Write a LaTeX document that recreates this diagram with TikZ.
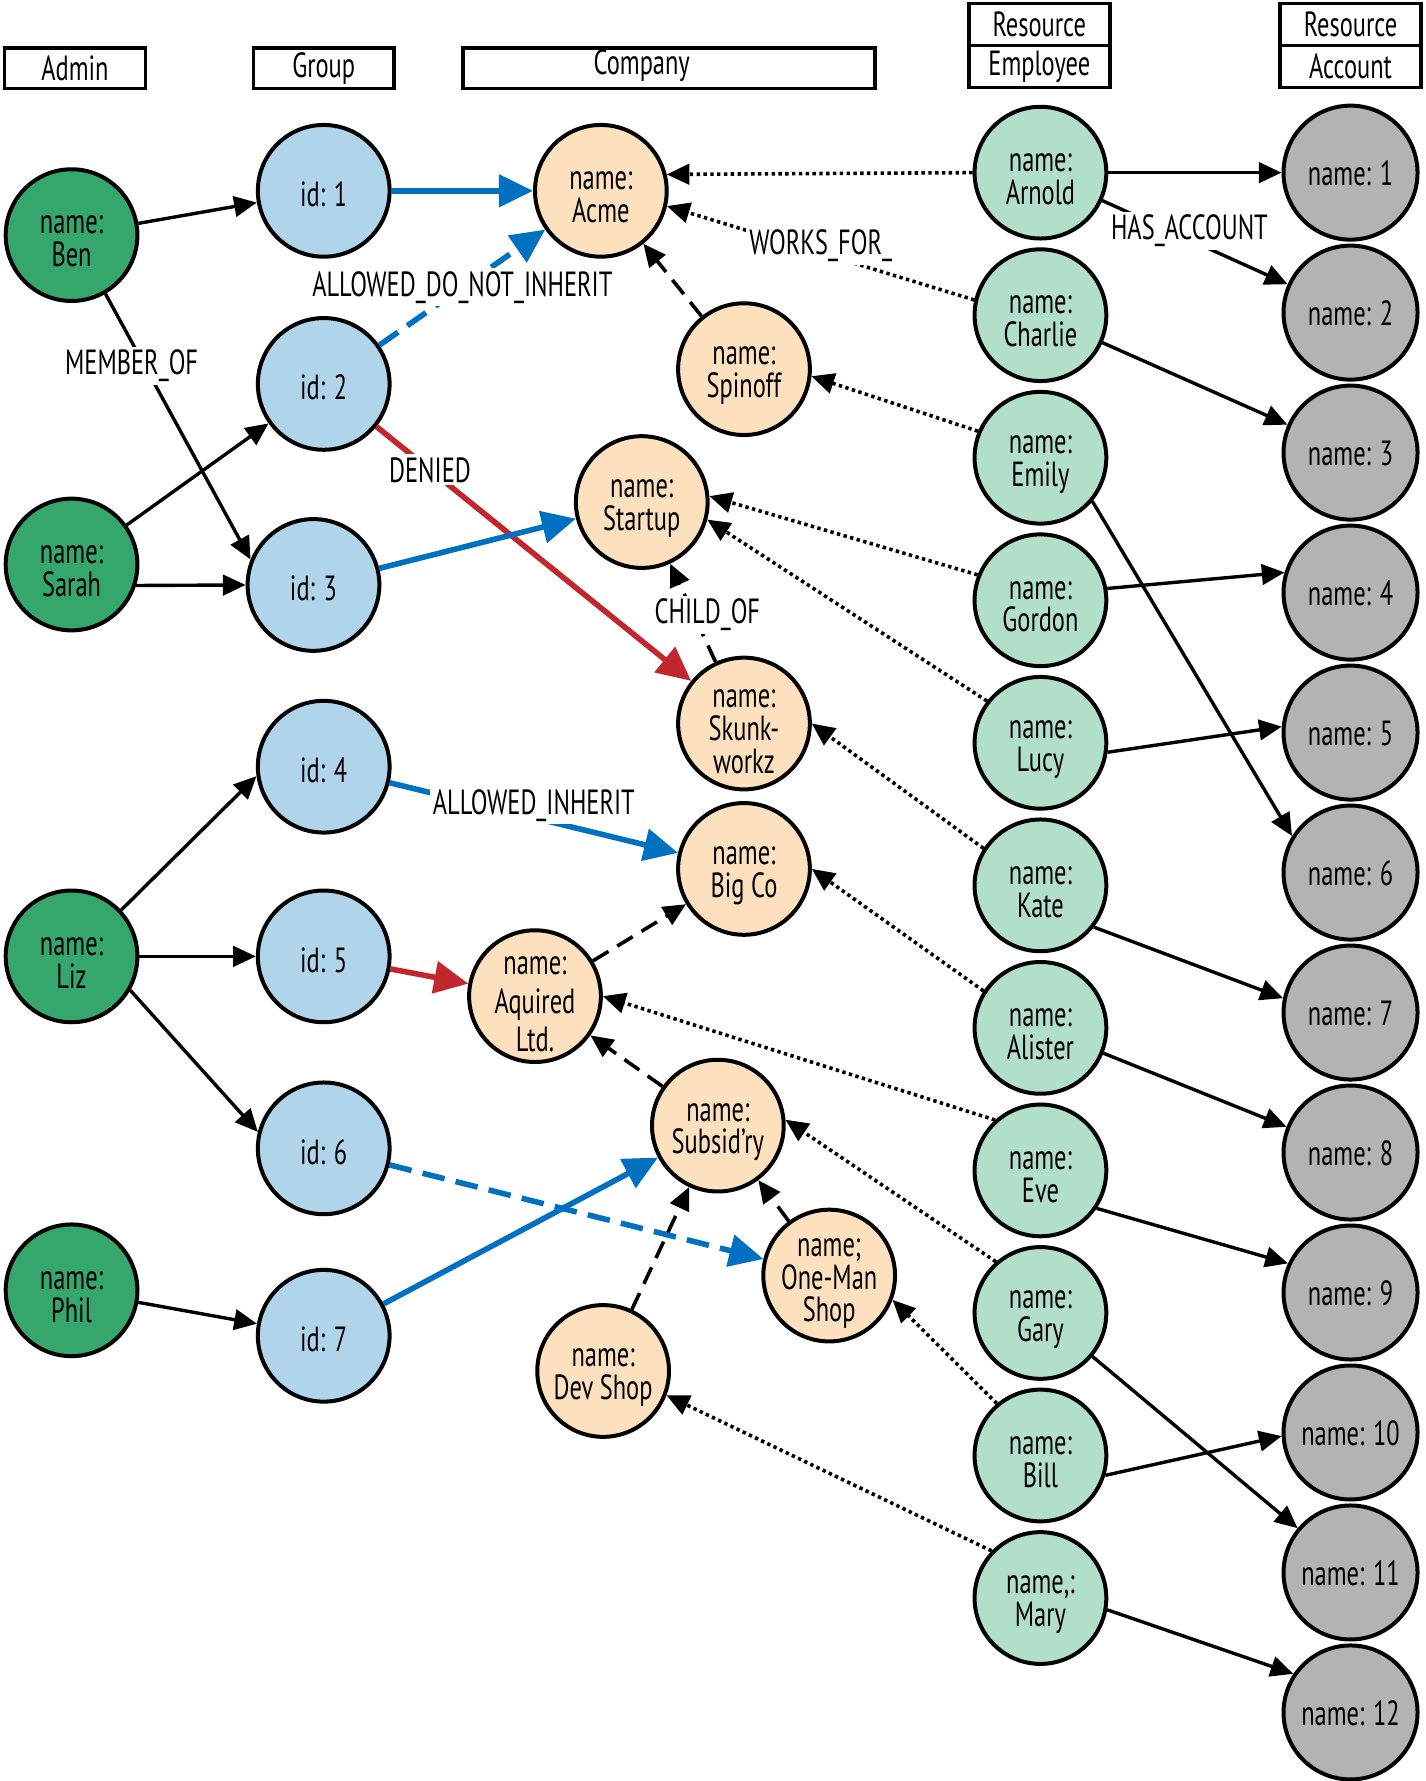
\documentclass[tikz,border=0pt]{standalone}
\usepackage{fontspec}
\setmainfont{PT Sans}[FakeStretch=0.7]
\usetikzlibrary{arrows.meta, positioning}

\definecolor{adminfill}{RGB}{54,167,108}
\definecolor{groupfill}{RGB}{176,212,234}
\definecolor{compfill}{RGB}{253,224,190}
\definecolor{empfill}{RGB}{178,223,202}
\definecolor{acctfill}{RGB}{179,179,179}
\definecolor{permblue}{RGB}{0,112,192}
\definecolor{permred}{RGB}{193,39,45}

\begin{document}
\begin{tikzpicture}[x=0.02cm, y=-0.02cm,
      every node/.style={font=\fontsize{17.5}{16.5}\selectfont},
      ent/.style={circle, draw, line width=2pt, minimum size=2.32cm,
                  inner sep=0pt, align=center},
      twoline/.style={ent, text height=32pt},
      threeline/.style={text height=50pt, inner sep=-0.45cm},
      admin/.style={twoline, fill=adminfill},
      grp/.style={ent, text height=16pt, fill=groupfill},
      comp/.style={twoline, fill=compfill},
      emp/.style={twoline, fill=empfill},
      acct/.style={ent, text height=13.5pt, fill=acctfill, minimum size=2.36cm},
      hdr/.style={draw, line width=1.8pt, minimum width=2.48cm,
                  minimum height=0.72cm, inner sep=0pt},
      lbl/.style={fill=white, inner sep=1.5pt},
      memberof/.style={-{Triangle[length=0.4cm, width=0.36cm]}, line width=1.7pt},
      hasacct/.style={memberof},
      perm/.style={-{Triangle[length=0.6cm, width=0.56cm]}, line width=2.8pt},
      allow/.style={perm, draw=permblue},
      deny/.style={perm, draw=permred},
      noinherit/.style={allow, dash pattern=on 0.4cm off 0.2cm},
      childof/.style={memberof, line width=1.8pt, dash pattern=on 0.32cm off 0.18cm},
      worksfor/.style={memberof, line width=1.8pt, dash pattern=on 0.06cm off 0.06cm}]
    \useasboundingbox (0,0) rectangle (1255,1568);

    % headers
    \node[hdr] (hadmin) at (66,60) {Admin};
    \node[hdr] (hgroup) at (285,60) {Group};
    \node[hdr, minimum width=7.26cm] (hcomp) at (589,60) {};
    \node (hcomptxt) at (565,58) {Company};
    \node[hdr, minimum height=0.74cm] (hres1) at (915,21.5) {Resource};
    \node[hdr, minimum height=0.74cm, below=-1.8pt of hres1] (hemp) {Employee};
    \node[hdr, minimum height=0.74cm] (hres2) at (1189,21.5) {Resource};
    \node[hdr, minimum height=0.74cm, below=-1.8pt of hres2] (hacct) {Account};

    % admins
    \node[admin] (ben)   at (63,207)  {name:\\Ben};
    \node[admin] (sarah) at (63,497)  {name:\\Sarah};
    \node[admin] (liz)   at (63,842)  {name:\\Liz};
    \node[admin] (phil)  at (63,1136) {name:\\Phil};

    % groups
    \node[grp] (gid1) at (285,168)  {id: 1};
    \node[grp] (gid2) at (285,338)  {id: 2};
    \node[grp] (gid3) at (276,515)  {id: 3};
    \node[grp] (gid4) at (285,675)  {id: 4};
    \node[grp] (gid5) at (285,842)  {id: 5};
    \node[grp] (gid6) at (285,1011) {id: 6};
    \node[grp] (gid7) at (285,1176) {id: 7};

    % companies
    \node[comp] (acme)    at (529,168)  {name:\\Acme};
    \node[comp] (spinoff) at (655,325)  {name:\\Spinoff};
    \node[comp] (startup) at (565,442)  {name:\\Startup};
    \node[comp, threeline] (skunk) at (655,637) {name:\\Skunk-\\workz};
    \node[comp] (bigco)   at (655,765)  {name:\\Big Co};
    \node[comp, threeline, text height=56pt] (aquired) at (471,877) {name:\\[0.1cm]Aquired\\[0.1cm]Ltd.};
    \node[comp] (subsid)  at (632,991)  {name:\\Subsid’ry};
    \node[comp, threeline] (oneman) at (730,1123) {name;\\One-Man\\Shop};
    \node[comp] (devshop) at (531,1207) {name:\\Dev Shop};

    % employees
    \node[emp] (arnold) at (916,152) {name:\\Arnold};
    \node[emp, below=0.12cm of arnold]  (charlie) {name:\\Charlie};
    \node[emp, below=0.12cm of charlie] (emily)   {name:\\Emily};
    \node[emp, below=0.12cm of emily]   (gordon)  {name:\\Gordon};
    \node[emp, below=0.12cm of gordon]  (lucy)    {name:\\Lucy};
    \node[emp, below=0.12cm of lucy]    (kate)    {name:\\Kate};
    \node[emp, below=0.12cm of kate]    (alister) {name:\\Alister};
    \node[emp, below=0.12cm of alister] (eve)     {name:\\Eve};
    \node[emp, below=0.12cm of eve]     (gary)    {name:\\Gary};
    \node[emp, below=0.12cm of gary]    (bill)    {name:\\Bill};
    \node[emp, below=0.12cm of bill]    (mary)    {name,:\\Mary};

    % accounts
    \node[acct] (acc1) at (1189,152) {name: 1};
    \node[acct, below=0.035cm of acc1]  (acc2)  {name: 2};
    \node[acct, below=0.035cm of acc2]  (acc3)  {name: 3};
    \node[acct, below=0.035cm of acc3]  (acc4)  {name: 4};
    \node[acct, below=0.035cm of acc4]  (acc5)  {name: 5};
    \node[acct, below=0.035cm of acc5]  (acc6)  {name: 6};
    \node[acct, below=0.035cm of acc6]  (acc7)  {name: 7};
    \node[acct, below=0.035cm of acc7]  (acc8)  {name: 8};
    \node[acct, below=0.035cm of acc8]  (acc9)  {name: 9};
    \node[acct, below=0.035cm of acc9]  (acc10) {name: 10};
    \node[acct, below=0.035cm of acc10] (acc11) {name: 11};
    \node[acct, below=0.035cm of acc11] (acc12) {name: 12};

    % admins -> groups
    \draw[memberof] (ben) -- (gid1);
    \draw[memberof] (ben.-60) -- node[lbl, pos=0.27, xshift=-0.23cm] (lmember) {MEMBER\_OF} (gid3.158);
    \draw[memberof] (sarah) -- (gid2);
    \draw[memberof] (sarah.-18) -- (gid3.west);
    \draw[memberof] (liz.43) -- (gid4.188);
    \draw[memberof] (liz) -- (gid5);
    \draw[memberof] (liz.-30) -- (gid6.166);
    \draw[memberof] (phil) -- (gid7);

    % groups -> companies
    \draw[allow] (gid1) -- (acme);
    \draw[noinherit] (gid2) -- node[lbl, pos=0.5] (lnoinh) {ALLOWED\_DO\_NOT\_INHERIT} (acme);
    \draw[deny] (gid2) -- node[lbl, pos=0.17] (ldenied) {DENIED} (skunk);
    \draw[allow] (gid3) -- (startup);
    \draw[allow] (gid4) -- node[lbl, pos=0.5, yshift=0.22cm] (linherit) {ALLOWED\_INHERIT} (bigco);
    \draw[deny] (gid5) -- (aquired);
    \draw[noinherit] (gid6) -- (oneman);
    \draw[allow] (gid7) -- (subsid);

    % company hierarchy
    \draw[childof] (spinoff) -- (acme);
    \draw[childof] (skunk) -- node[lbl, pos=0.48, xshift=0.24cm] (lchild) {CHILD\_OF} (startup);
    \draw[childof] (aquired) -- (bigco);
    \draw[childof] (subsid) -- (aquired);
    \draw[childof] (oneman) -- (subsid);
    \draw[childof] (devshop) -- (subsid);

    % employees -> companies
    \draw[worksfor] (arnold.west) -- (acme.14);
    \draw[worksfor] (charlie.167) -- node[lbl, pos=0.5, yshift=0.13cm] (lworks) {WORKS\_FOR\_} (acme.-13);
    \draw[worksfor] (emily.157) -- (spinoff.-6);
    \draw[worksfor] (gordon.158) -- (startup.5);
    \draw[worksfor] (lucy.142) -- (startup.-15);
    \draw[worksfor] (kate.147) -- (skunk.east);
    \draw[worksfor] (alister.147) -- (bigco.east);
    \draw[worksfor] (eve.132) -- (aquired.east);
    \draw[worksfor] (gary.131) -- (subsid.5);
    \draw[worksfor] (bill.130) -- (oneman.-21);
    \draw[worksfor] (mary.136) -- (devshop.-21);

    % employees -> accounts
    \draw[hasacct] (arnold) -- (acc1);
    \draw[hasacct] (arnold) -- node[lbl, pos=0.47, yshift=0.16cm] (lhas) {HAS\_ACCOUNT} (acc2);
    \draw[hasacct] (charlie) -- (acc3);
    \draw[hasacct] (emily.-40) -- (acc6.148);
    \draw[hasacct] (gordon.10) -- (acc4.163);
    \draw[hasacct] (lucy.-8) -- (acc5.175);
    \draw[hasacct] (kate.-38) -- (acc7.168);
    \draw[hasacct] (alister) -- (acc8);
    \draw[hasacct] (eve.-34) -- (acc9.155);
    \draw[hasacct] (gary) -- (acc11);
    \draw[hasacct] (bill.-17) -- (acc10.183);
    \draw[hasacct] (mary.-10) -- (acc12.146);
  \end{tikzpicture}
\end{document}
